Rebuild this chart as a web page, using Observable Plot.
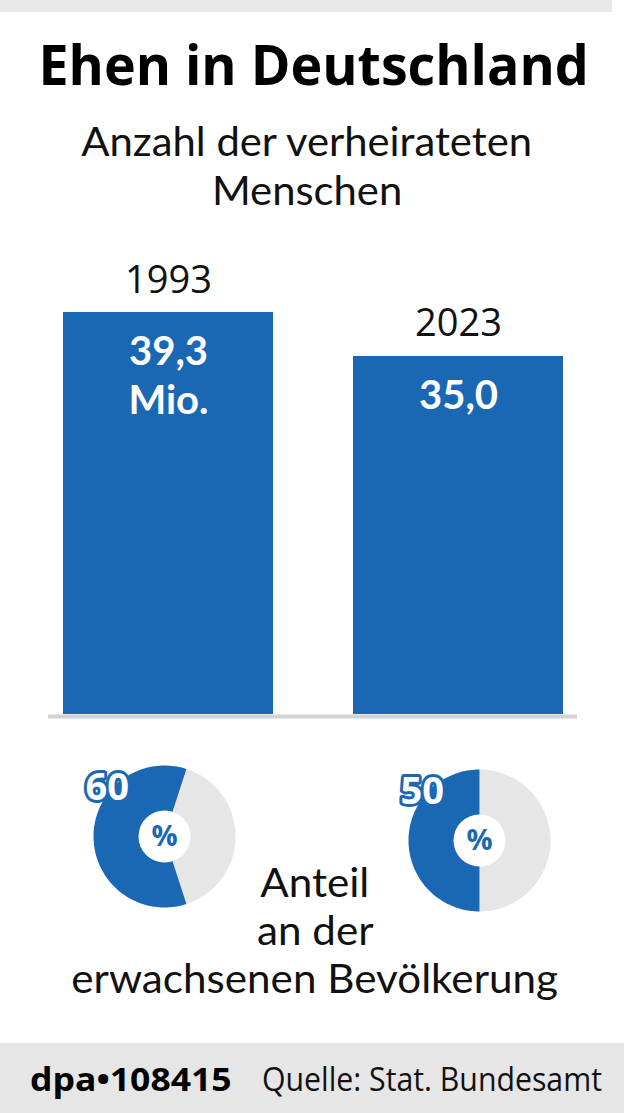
<!DOCTYPE html>
<html>
<head>
<meta charset="utf-8">
<script src="https://cdn.jsdelivr.net/npm/d3@7"></script>
<script src="https://cdn.jsdelivr.net/npm/@observablehq/plot@0.6"></script>
<style>
  html, body { margin: 0; padding: 0; background: #fff; }
  #root { position: relative; width: 628px; height: 1113px; overflow: hidden; font-family: "Open Sans", sans-serif; color: #111; }
  .abs { position: absolute; }
  .center { position: absolute; text-align: center; white-space: nowrap; }
  .lato { font-family: "Lato", "Open Sans", sans-serif; }
  .sx { display: inline-block; transform: scaleX(0.93); transform-origin: center; }
  .sxl { display: inline-block; transform: scaleX(0.93); transform-origin: left; }
</style>
</head>
<body>
<div id="root">
  <div class="abs" style="left:0;top:0;width:612px;height:12px;background:#e8e8e8;"></div>
  <div class="center" style="left:0;top:35px;width:628px;font-size:56px;line-height:56px;font-weight:700;color:#000;"><span class="sx" style="transform:scaleX(0.96)">Ehen in Deutschland</span></div>
  <div class="center lato" style="left:0;top:117px;width:614px;font-size:40px;line-height:49px;">
    <span class="sx" style="transform:scaleX(1.045)">Anzahl der verheirateten</span><br><span class="sx" style="transform:scaleX(1.045)">Menschen</span>
  </div>
  <div id="bars" class="abs" style="left:0;top:240px;"></div>
  <div id="donut0" class="abs"></div>
  <div id="donut1" class="abs"></div>
  <div class="center lato" style="left:0;top:858px;width:630px;font-size:40px;line-height:48px;">
    <span class="sx" style="transform:scaleX(1.055)">Anteil</span><br><span class="sx" style="transform:scaleX(1.055)">an der</span><br><span class="sx" style="transform:scaleX(1.055)">erwachsenen Bevölkerung</span>
  </div>
  <div class="abs" style="left:0;top:1043px;width:624px;height:70px;background:#e6e6e6;"></div>
  <div class="abs" style="left:30px;top:1063px;font-size:32px;line-height:32px;font-weight:700;white-space:nowrap;color:#000;"><span class="sxl" style="transform:scaleX(1.11)">dpa•108415</span></div>
  <div class="abs" style="left:262px;top:1063px;font-size:32px;line-height:32px;white-space:nowrap;"><span class="sxl" style="transform:scaleX(0.945)">Quelle: Stat. Bundesamt</span></div>
</div>
<script>
// ---- data ----
const years = ["1993", "2023"];
const married = [39.3, 35.0];            // verheiratete Menschen, Mio.
const valueLabels = ["39,3\nMio.", "35,0"];
const shares = [60, 50];                 // Anteil an der erwachsenen Bevölkerung, %

// ---- styles ----
const blue = "#1a68b3";
const grey = "#e6e6e6";
const baseStyle = { fontFamily: "Open Sans, sans-serif", background: "transparent", overflow: "visible" };

const data = years.map((year, i) => ({ year, value: married[i], label: valueLabels[i] }));

const bars = Plot.plot({
  width: 628,
  height: 480,
  marginTop: 72,
  marginBottom: 6,
  marginLeft: 48,
  marginRight: 51,
  x: { domain: years, range: [34, 592], paddingInner: 80 / 290, paddingOuter: 0.1, axis: null },
  y: { domain: [0, d3.max(married)], axis: null },
  style: baseStyle,
  marks: [
    Plot.ruleY([0], { stroke: "#d3d3d3", strokeWidth: 4, dy: 2 }),
    Plot.barY(data, { x: "year", y: "value", fill: blue }),
    Plot.text(data, { x: "year", y: "value", text: "year", lineAnchor: "bottom", dy: -20, fontSize: 38, fill: "#111" }),
    Plot.text(data, { x: "year", y: "value", text: "label", lineAnchor: "top", dy: 18, fontSize: 40, fontFamily: "Lato, Open Sans, sans-serif", fontWeight: 700, fill: "white", lineHeight: 1.22 })
  ]
});
document.getElementById("bars").appendChild(bars);

// wedge polygon, angles in degrees clockwise from top, in unit space
function wedge(a0, a1) {
  const pts = [{ x: 0, y: 0 }];
  const n = Math.max(2, Math.ceil(Math.abs(a1 - a0) / 2));
  for (let k = 0; k <= n; k++) {
    const a = (a0 + (a1 - a0) * k / n) * Math.PI / 180;
    pts.push({ x: Math.sin(a), y: Math.cos(a) });
  }
  return pts;
}

const donutCenters = [[163.7, 835.5], [479, 840]];
const R = 71, M = 8;
shares.forEach((share, i) => {
  const half = 180 * share / 100;
  const bluePts = wedge(270 - half, 270 + half);
  const greyPts = wedge(270 + half - 360, 270 - half);
  const chart = Plot.plot({
    width: 2 * R + 2 * M,
    height: 2 * R + 2 * M,
    margin: M,
    x: { domain: [-1, 1], axis: null },
    y: { domain: [-1, 1], axis: null },
    style: baseStyle,
    marks: [
      Plot.line(greyPts, { x: "x", y: "y", fill: grey, stroke: "none", curve: "linear-closed" }),
      Plot.line(bluePts, { x: "x", y: "y", fill: blue, stroke: "none", curve: "linear-closed" }),
      Plot.dot([share], { frameAnchor: "middle", r: 26, fill: "white", stroke: "none" }),
      Plot.text(["%"], { frameAnchor: "middle", fill: blue, fontSize: 29, fontWeight: 700 }),
      Plot.text([share], { frameAnchor: "top-left", text: d => String(d), dx: -8, dy: 8, fill: "white", stroke: blue, strokeWidth: 6, strokeLinejoin: "round", paintOrder: "stroke", fontSize: 38, fontWeight: 700 })
    ]
  });
  const host = document.getElementById("donut" + i);
  host.style.left = (donutCenters[i][0] - R - M) + "px";
  host.style.top = (donutCenters[i][1] - R - M) + "px";
  host.appendChild(chart);
});
</script>
</body>
</html>
